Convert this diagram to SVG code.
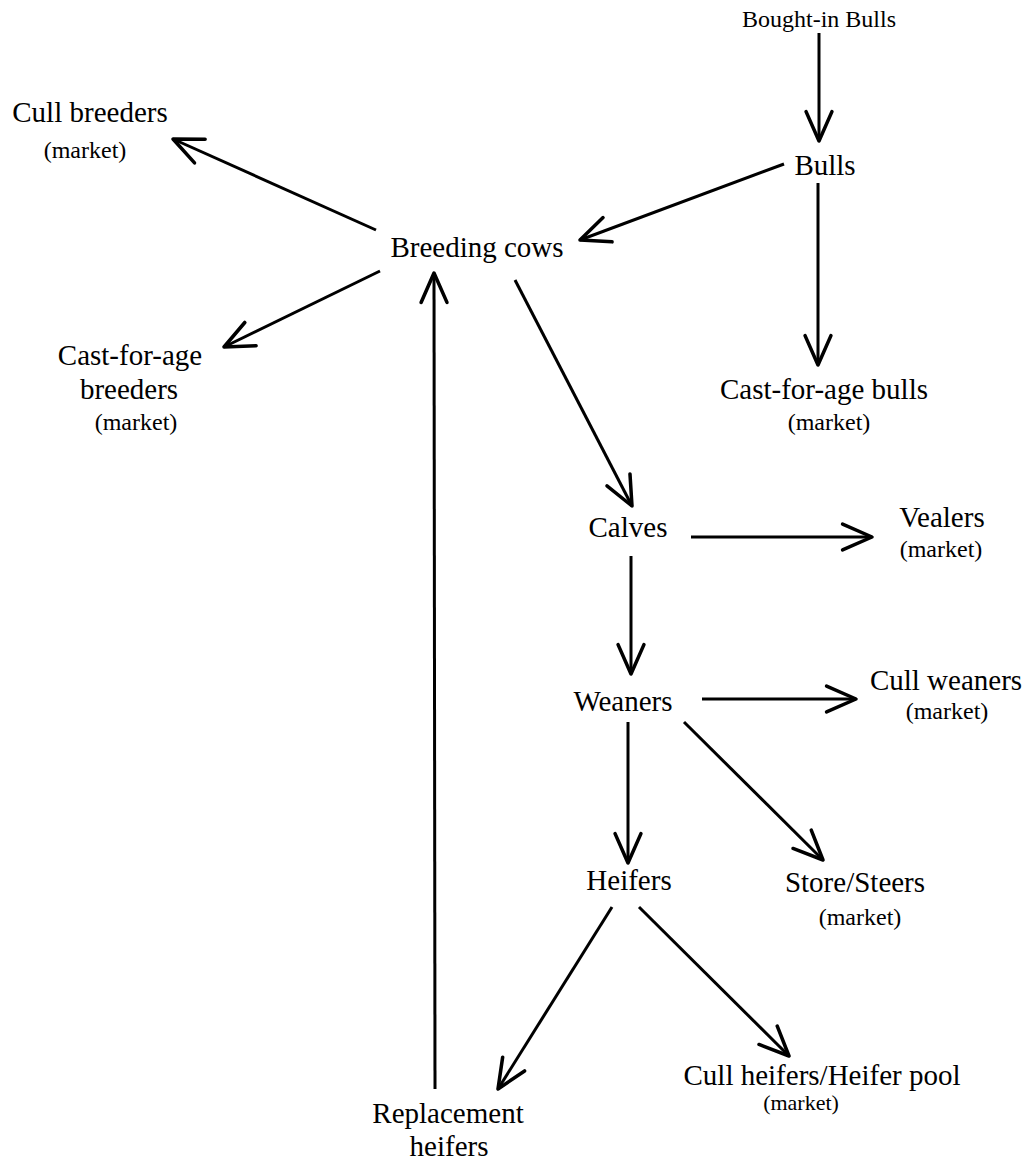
<svg xmlns="http://www.w3.org/2000/svg" width="1030" height="1164" viewBox="0 0 1030 1164">
<style>
text{font-family:"Liberation Serif","Times New Roman",serif;fill:#000;text-anchor:middle}
.l{font-size:29px}
.m{font-size:24px}
.s{font-size:24px}
.c line{stroke:#000;stroke-width:3;fill:none;marker-end:url(#ah)}
</style>
<defs>
<marker id="ah" markerUnits="userSpaceOnUse" markerWidth="40" markerHeight="40" viewBox="-30 -15 34 30" refX="0" refY="0" orient="auto" overflow="visible">
<path d="M-25,-11 L0,0 L-25,11" fill="none" stroke="#000" stroke-width="3" stroke-linejoin="round" stroke-linecap="round"/>
</marker>
</defs>
<rect width="1030" height="1164" fill="#fff"/>
<g id="connectors" class="c">
<line x1="819" y1="33" x2="819" y2="141"/>
<line x1="784" y1="164" x2="580" y2="240"/>
<line x1="818" y1="183" x2="818" y2="365"/>
<line x1="376" y1="230" x2="173" y2="139"/>
<line x1="380" y1="271" x2="224" y2="347"/>
<line x1="435" y1="1089" x2="434" y2="273"/>
<line x1="515" y1="280" x2="632" y2="506"/>
<line x1="691" y1="537" x2="872" y2="537"/>
<line x1="631" y1="556" x2="631" y2="674"/>
<line x1="702" y1="699" x2="856" y2="699"/>
<line x1="628" y1="722" x2="628" y2="863"/>
<line x1="684" y1="722" x2="823" y2="860"/>
<line x1="612" y1="907" x2="498" y2="1089"/>
<line x1="639" y1="907" x2="789" y2="1056"/>
</g>
<g id="bought-in-bulls"><text class="s" x="819" y="27">Bought-in Bulls</text></g>
<g id="bulls"><text class="l" x="825" y="175">Bulls</text></g>
<g id="cast-for-age-bulls"><text class="l" x="824" y="399">Cast-for-age bulls</text><text class="m" x="829" y="430">(market)</text></g>
<g id="cull-breeders"><text class="l" x="90" y="122">Cull breeders</text><text class="m" x="85" y="158">(market)</text></g>
<g id="breeding-cows"><text class="l" x="477" y="257">Breeding cows</text></g>
<g id="cast-for-age-breeders"><text class="l" x="130" y="365">Cast-for-age</text><text class="l" x="129" y="399">breeders</text><text class="m" x="136" y="430">(market)</text></g>
<g id="calves"><text class="l" x="628" y="537">Calves</text></g>
<g id="vealers"><text class="l" x="942" y="527">Vealers</text><text class="m" x="941" y="557">(market)</text></g>
<g id="weaners"><text class="l" x="623" y="711">Weaners</text></g>
<g id="cull-weaners"><text class="l" x="946" y="690">Cull weaners</text><text class="m" x="947" y="719">(market)</text></g>
<g id="heifers"><text class="l" x="629" y="890">Heifers</text></g>
<g id="store-steers"><text class="l" x="855" y="892">Store/Steers</text><text class="m" x="860" y="925">(market)</text></g>
<g id="replacement-heifers"><text class="l" x="448" y="1123">Replacement</text><text class="l" x="449" y="1156">heifers</text></g>
<g id="cull-heifers"><text class="l" x="822" y="1085">Cull heifers/Heifer pool</text><text class="m" x="801" y="1110" style="font-size:22px">(market)</text></g>
</svg>
